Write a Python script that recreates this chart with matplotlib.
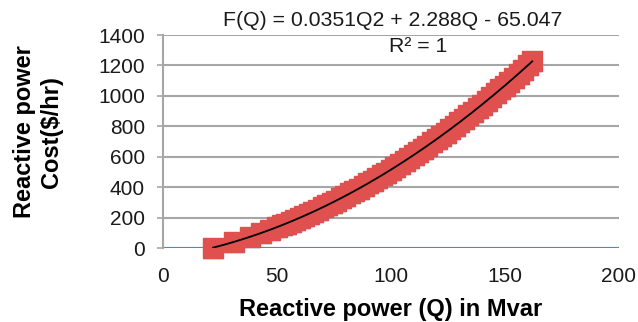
import matplotlib
matplotlib.use("Agg")
import matplotlib.pyplot as plt
import numpy as np

plt.rcParams['font.family'] = ['Liberation Sans', 'DejaVu Sans']

# Data
q_mvar = [22, 31, 38, 43, 47, 50, 52, 54, 56, 58, 60, 62, 64, 66, 68, 70, 72, 74,
          76, 78, 80, 82, 84, 86, 88, 90, 92, 94, 96, 98, 100, 102, 104, 106, 108,
          110, 112, 114, 116, 118, 120, 122, 124, 126, 128, 130, 132, 134, 136, 138,
          140, 142, 144, 146, 148, 150, 152, 154, 156, 158, 160, 162]
cost = [2, 40, 73, 98, 120, 137, 149, 161, 173, 186, 199, 212, 225, 239, 253, 267,
        282, 296, 312, 327, 343, 359, 375, 391, 408, 425, 443, 460, 478, 496, 515,
        534, 553, 572, 591, 611, 632, 652, 673, 694, 715, 737, 758, 780, 803, 826,
        849, 872, 895, 919, 943, 968, 992, 1017, 1042, 1068, 1094, 1120, 1146, 1173,
        1200, 1227]
x_ticks = [0, 50, 100, 150, 200]
y_ticks = [0, 200, 400, 600, 800, 1000, 1200, 1400]
equation_text = "F(Q) = 0.0351Q2 + 2.288Q - 65.047"
r2_text = "R² = 1"

fig = plt.figure(figsize=(6.38, 3.22), dpi=100)
ax = fig.add_axes([0.2555, 0.2298, 0.7145, 0.6615])

ax.set_xlim(0, 200)
ax.set_ylim(0, 1400)
ax.set_xticks(x_ticks)
ax.set_yticks(y_ticks)

ax.grid(axis='y', color='#A6A6A6', linewidth=1.5, zorder=0)
ax.set_axisbelow(True)

for s in ['top', 'right', 'bottom']:
    ax.spines[s].set_visible(False)
ax.spines['left'].set_color('#A6A6A6')
ax.spines['left'].set_linewidth(1.5)

ax.axhline(0, color='#3D8FD1', linewidth=1.5, zorder=2)

# blue series (mostly hidden)
ax.plot(q_mvar, cost, linestyle='none', marker='^', markersize=14,
        color='#3D8FD1', zorder=3, clip_on=False)
# red series
ax.plot(q_mvar, cost, linestyle='none', marker='s', markersize=14,
        color='#E0504F', zorder=4, clip_on=False)

# polynomial trendline
coef = np.polyfit(q_mvar, cost, 2)
qq = np.linspace(min(q_mvar), max(q_mvar), 200)
ax.plot(qq, np.polyval(coef, qq), color='black', linewidth=1.3, zorder=5)

ax.tick_params(axis='y', length=4, color='#A6A6A6', width=1.2, labelsize=15,
               labelcolor='#1a1a1a', pad=9)
ax.tick_params(axis='x', length=0, labelsize=15, labelcolor='#1a1a1a', pad=14)

ax.set_xlabel("Reactive power (Q) in Mvar", fontsize=17, fontweight='bold',
              labelpad=8)
ax.set_ylabel("Reactive power\nCost($/hr)", fontsize=17, fontweight='bold',
              linespacing=1.25, ha='center', va='center')
ax.yaxis.set_label_coords(-0.274, 0.545)

fig.text(393 / 638, 1 - 20 / 322, equation_text, ha='center', va='center',
         fontsize=15.3, color='#1a1a1a')
fig.text(418 / 638, 1 - 47 / 322, r2_text, ha='center', va='center',
         fontsize=15.3, color='#1a1a1a')

fig.savefig("out.png", dpi=100)
